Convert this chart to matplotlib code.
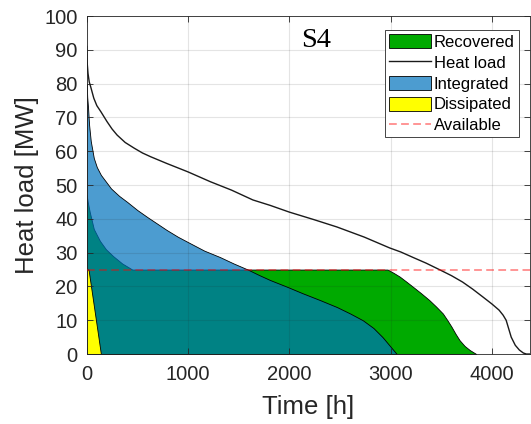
import numpy as np
import matplotlib
matplotlib.use("Agg")
import matplotlib.pyplot as plt
from matplotlib.patches import Patch
from matplotlib.lines import Line2D

# -----------------------------
# DATA (duration curves, MW vs hours)
# -----------------------------
load_t = [0, 5, 13, 25, 40, 70, 100, 140, 200, 250, 300, 380, 470, 550,
          630, 790, 1000, 1220, 1430, 1640, 1810, 2000, 2240, 2470, 2740,
          2990, 3100, 3220, 3350, 3480, 3600, 3710, 3810, 3910, 4000, 4070,
          4110, 4140, 4165, 4190, 4230, 4270, 4310, 4340, 4380]
load_mw = [91, 86, 83, 80.5, 79, 75.7, 73.5, 71.7, 68.8, 66.6, 64.8, 62.6,
           60.9, 59.5, 58.4, 56.4, 53.9, 51, 48.5, 45.6, 44, 42, 39.8, 37.6,
           34.6, 31.4, 30.2, 28.6, 26.9, 25, 23.2, 21.3, 19.2, 16.9, 14.8,
           13, 11.5, 10, 7.5, 5, 2.6, 1.2, 0.3, 0, 0]

integ_t = [0, 5, 13, 23, 40, 70, 100, 140, 190, 240, 320, 400, 500, 600,
           700, 790, 900, 1020, 1160, 1315, 1450, 1590, 1700, 1810, 1970,
           2130, 2300, 2470, 2600, 2725, 2830, 2920, 2990, 3060]
integ_mw = [80, 76, 73, 68, 63, 58, 55.3, 53, 51, 49, 46.8, 45, 42.6, 40.5,
            38.5, 36.7, 34.7, 32.8, 30.6, 28.7, 26.8, 25, 23.4, 21.9, 20,
            18, 16, 13.9, 12, 10, 7.7, 5, 2.5, 0]

recov_t = [0, 10, 30, 70, 130, 190, 260, 350, 450, 2970, 3030, 3090, 3160,
           3220, 3300, 3380, 3450, 3515, 3560, 3600, 3640, 3680, 3730, 3780,
           3845]
recov_mw = [47, 45, 42, 37, 33.5, 31, 29, 26.8, 25, 25, 24, 22.9, 21.3,
            19.9, 18, 16, 14, 12, 10, 8.1, 6, 4.1, 2.4, 1.2, 0]

diss_t = [0, 18, 140]
diss_mw = [25, 25, 0]

available_mw = 25

x_ticks = [0, 1000, 2000, 3000, 4000]
y_ticks = list(range(0, 101, 10))

# -----------------------------
# STYLE
# -----------------------------
plt.rcParams["font.family"] = ["Liberation Sans", "DejaVu Sans"]
dark = "#262626"
green = "#00aa00"
blue = (0, 0.447, 0.741, 0.7)
yellow = "#ffff00"
avail_color = (1, 0, 0, 0.45)
avail_dash = (0, (4.3, 2.4))

fig = plt.figure(figsize=(5.31, 4.24), dpi=100)
ax = fig.add_axes([0.1633, 0.165, 0.8357, 0.797])

# areas
ax.fill_between(recov_t, recov_mw, 0, facecolor=green, edgecolor="k",
                linewidth=0.6, zorder=1)
ax.fill_between(integ_t, integ_mw, 0, facecolor=blue, edgecolor="k",
                linewidth=0.6, zorder=1.2)
ax.fill_between(diss_t, diss_mw, 0, facecolor=yellow, edgecolor="k",
                linewidth=0.6, zorder=1.4)

# heat load curve and available capacity
ax.plot(load_t, load_mw, color="#1a1a1a", linewidth=1.0, zorder=3)
ax.axhline(available_mw, color=avail_color, linestyle=avail_dash,
           linewidth=1.3, zorder=3.5)

ax.set_xlim(0, 4380)
ax.set_ylim(0, 100)
ax.set_xticks(x_ticks)
ax.set_yticks(y_ticks)

ax.set_axisbelow(False)
ax.grid(True, color=dark, alpha=0.12, linewidth=0.8)
ax.tick_params(direction="in", top=True, right=True, length=4,
               width=0.6, colors=dark, labelsize=14.5, pad=6.5)
ax.tick_params(axis="x", pad=8)
for spine in ax.spines.values():
    spine.set_color(dark)
    spine.set_linewidth(0.6)

ax.set_xlabel("Time [h]", fontsize=18.5, color=dark, labelpad=8)
ax.set_ylabel("Heat load [MW]", fontsize=18.5, color=dark, labelpad=4)

ax.text(2120, 90.8, "S4", fontsize=20.5, family="Liberation Serif",
        va="baseline", ha="left", color="k")

handles = [
    Patch(facecolor=green, edgecolor="k", linewidth=0.6),
    Line2D([], [], color="#1a1a1a", linewidth=1.0),
    Patch(facecolor=blue, edgecolor="k", linewidth=0.6),
    Patch(facecolor=yellow, edgecolor="k", linewidth=0.6),
    Line2D([], [], color=avail_color, linestyle=avail_dash, linewidth=1.3),
]
labels = ["Recovered", "Heat load", "Integrated", "Dissipated", "Available"]
leg = ax.legend(handles, labels, loc="upper right",
                bbox_to_anchor=(0.974, 0.9586), borderaxespad=0,
                fontsize=12, handlelength=2.5, handleheight=0.9,
                handletextpad=0.18, labelspacing=0.31, borderpad=0.25,
                fancybox=False, framealpha=1, edgecolor=dark)
leg.get_frame().set_linewidth(0.6)
leg.set_zorder(5)

fig.savefig("out.png", dpi=100)
